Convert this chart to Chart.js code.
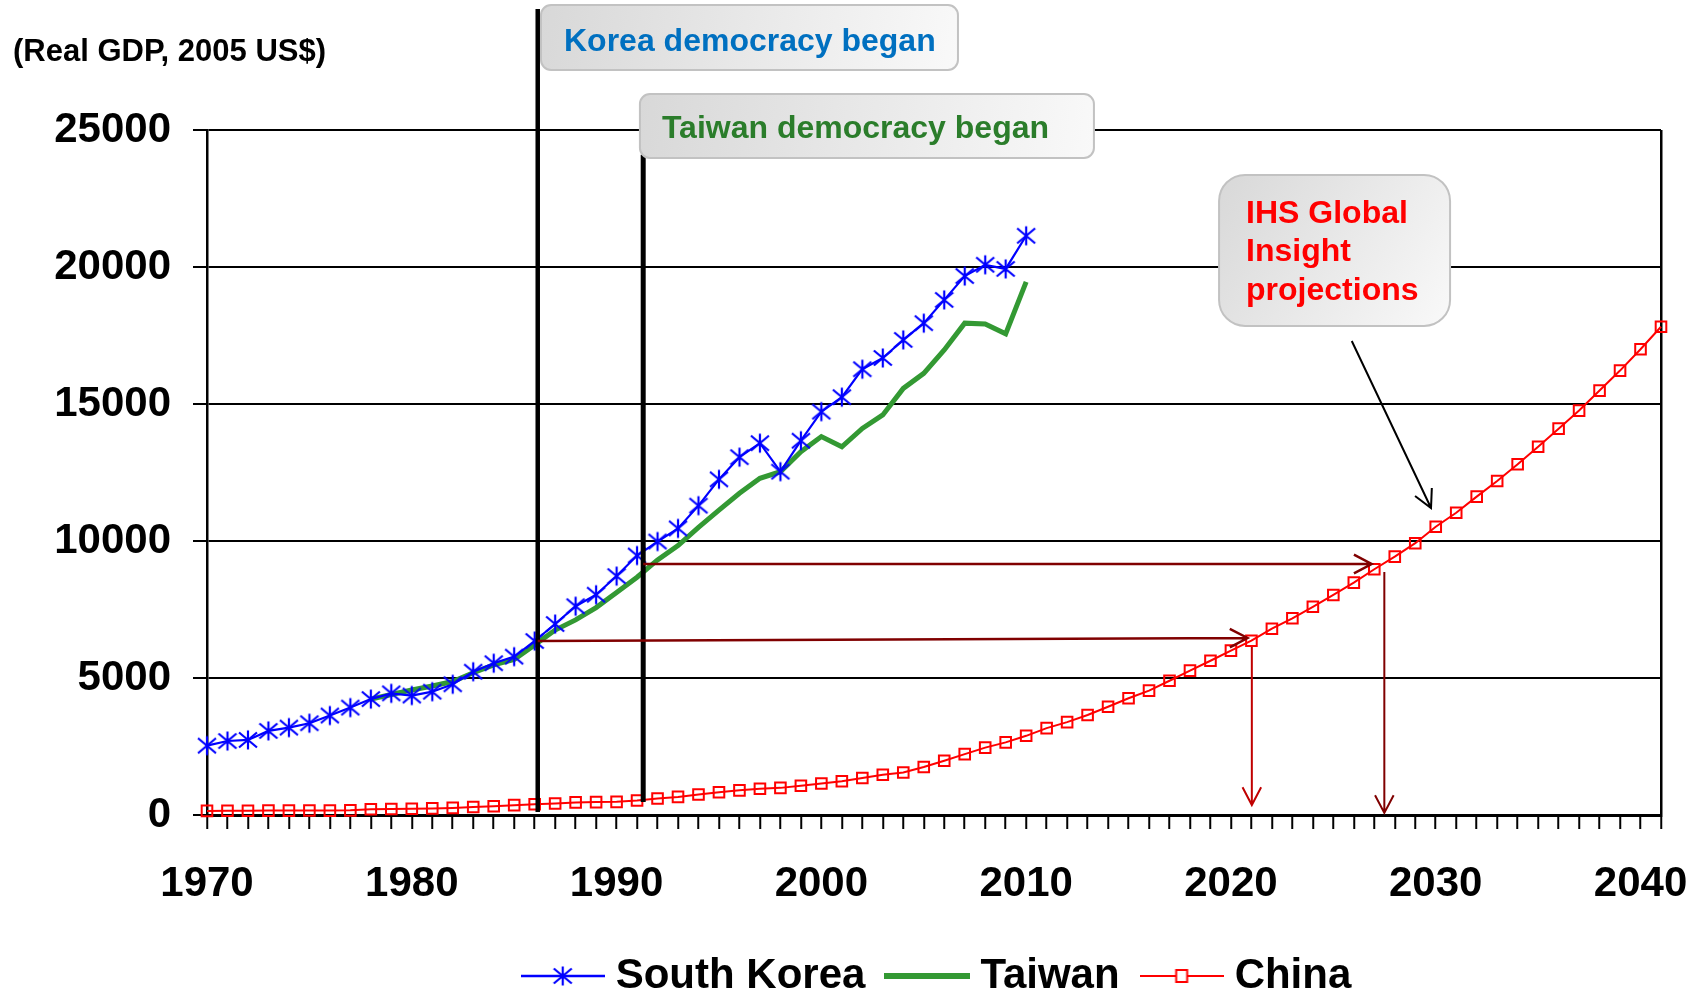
<!DOCTYPE html>
<html>
<head>
<meta charset="utf-8">
<title>Real GDP per capita</title>
<script src="https://cdn.jsdelivr.net/npm/chart.js@4.4.0/dist/chart.umd.min.js"></script>
<style>
  html, body { margin: 0; padding: 0; background: #fff; }
  #wrap { width: 1701px; height: 992px; }
</style>
</head>
<body>
<div id="wrap"><canvas id="gdpChart" width="1701" height="992"></canvas></div>
<script>
const years = [
  1970, 1971, 1972, 1973, 1974, 1975, 1976, 1977, 1978, 1979,
  1980, 1981, 1982, 1983, 1984, 1985, 1986, 1987, 1988, 1989,
  1990, 1991, 1992, 1993, 1994, 1995, 1996, 1997, 1998, 1999,
  2000, 2001, 2002, 2003, 2004, 2005, 2006, 2007, 2008, 2009,
  2010, 2011, 2012, 2013, 2014, 2015, 2016, 2017, 2018, 2019,
  2020, 2021, 2022, 2023, 2024, 2025, 2026, 2027, 2028, 2029,
  2030, 2031, 2032, 2033, 2034, 2035, 2036, 2037, 2038, 2039,
  2040, 2041,
];

// 1970 - 2010
const southKorea = [
  2530, 2700, 2740, 3070, 3190, 3350, 3630, 3920, 4230, 4440,
  4360, 4500, 4770, 5230, 5540, 5780, 6350, 6970, 7620, 8040,
  8720, 9470, 9980, 10460, 11290, 12250, 13060, 13570, 12530, 13660,
  14720, 15250, 16270, 16680, 17340, 17950, 18800, 19670, 20080, 19930,
  21140,
];

// 1970 - 2010, hidden behind Korea before 1978
const taiwan = [
  null, null, null, null, null, null, null, null, 4230, 4400,
  4560, 4710, 4870, 5190, 5480, 5680, 6210, 6750, 7120, 7570,
  8120, 8680, 9310, 9830, 10500, 11130, 11740, 12290, 12530, 13260,
  13810, 13440, 14110, 14600, 15570, 16120, 16970, 17950, 17920, 17560,
  19460,
];

// 1970 - 2041 (IHS Global Insight projections after 2010)
const china = [
  150, 155, 155, 160, 160, 165, 160, 170, 210, 220,
  230, 240, 260, 290, 320, 360, 390, 420, 460, 470,
  480, 530, 600, 660, 750, 830, 900, 960, 990, 1070,
  1150, 1230, 1350, 1470, 1550, 1750, 1980, 2220, 2460, 2650,
  2890, 3170, 3390, 3650, 3950, 4260, 4540, 4900, 5270, 5630,
  6000, 6360, 6800, 7180, 7600, 8030, 8480, 8970, 9430, 9920,
  10520, 11030, 11620, 12190, 12800, 13440, 14100, 14760, 15490, 16220,
  17000, 17820,
];

const yTicks = [0, 5000, 10000, 15000, 20000, 25000];
const xTickLabels = [1970, 1980, 1990, 2000, 2010, 2020, 2030, 2040];

const FONT = "'Liberation Sans', Arial, sans-serif";

// vertical event lines (year, value range)
const eventLines = [
  { year: 1986.15, top: 29420, bottom: 110, width: 4.5 },
  { year: 1991.3, top: 24100, bottom: 470, width: 5 },
];

// arrows in data coordinates
const arrows = [
  { x0: 1986.15, y0: 6350, x1: 2020.81, y1: 6460, color: '#800000', width: 2.5 },
  { x0: 2021.02, y0: 6130, x1: 2021.02, y1: 365, color: '#C00000', width: 2 },
  { x0: 1991.3, y0: 9160, x1: 2026.87, y1: 9160, color: '#800000', width: 2.5 },
  { x0: 2027.49, y0: 8870, x1: 2027.49, y1: 75, color: '#800000', width: 2 },
  { x0: 2025.9, y0: 17300, x1: 2029.77, y1: 11205, color: '#000000', width: 2 },
];

const callouts = [
  { lines: ['Korea democracy began'], color: '#0070C0',
    x0: 1986.31, x1: 2006.67, y0: 29560, y1: 27190, radius: 10, padX: 23, baseY: 46 },
  { lines: ['Taiwan democracy began'], color: '#2B7D2B',
    x0: 1991.14, x1: 2013.31, y0: 26310, y1: 23980, radius: 10, padX: 22, baseY: 44 },
  { lines: ['IHS Global', 'Insight', 'projections'], color: '#FF0000',
    x0: 2019.42, x1: 2030.7, y0: 23360, y1: 17850, radius: 26, padX: 27, baseY: 48 },
];

function makeIcon(w, h, draw) {
  const c = document.createElement('canvas');
  c.width = w;
  c.height = h;
  draw(c.getContext('2d'), w, h);
  return c;
}

function drawAsterisk(g, cx, cy) {
  g.save();
  g.strokeStyle = '#0000FF';
  g.lineWidth = 2.2;
  g.beginPath();
  g.moveTo(cx, cy - 9.5); g.lineTo(cx, cy + 9.5);
  g.moveTo(cx - 9, cy - 7.5); g.lineTo(cx + 9, cy + 7.5);
  g.moveTo(cx - 9, cy + 7.5); g.lineTo(cx + 9, cy - 7.5);
  g.stroke();
  g.restore();
}

const koreaPoint = makeIcon(22, 22, (g) => drawAsterisk(g, 11, 11));

const koreaLegend = makeIcon(84, 24, (g, w, h) => {
  g.strokeStyle = '#0000FF';
  g.lineWidth = 2.5;
  g.beginPath(); g.moveTo(0, h / 2); g.lineTo(w, h / 2); g.stroke();
  drawAsterisk(g, w / 2, h / 2);
});

const taiwanLegend = makeIcon(86, 24, (g, w, h) => {
  g.strokeStyle = '#339933';
  g.lineWidth = 6;
  g.beginPath(); g.moveTo(0, h / 2); g.lineTo(w, h / 2); g.stroke();
});

const chinaLegend = makeIcon(84, 24, (g, w, h) => {
  g.strokeStyle = '#FF0000';
  g.lineWidth = 2;
  g.beginPath(); g.moveTo(0, h / 2); g.lineTo(w, h / 2); g.stroke();
  g.fillStyle = '#fff';
  g.fillRect(w / 2 - 5.5, h / 2 - 6, 11, 12);
  g.strokeRect(w / 2 - 5.5, h / 2 - 6, 11, 12);
});

const legendIcons = [koreaLegend, taiwanLegend, chinaLegend];

const toPoints = (values) => values.map((v, i) => ({ x: years[i], y: v }));

function roundedRect(ctx, x, y, w, h, r) {
  ctx.beginPath();
  ctx.moveTo(x + r, y);
  ctx.lineTo(x + w - r, y);
  ctx.arcTo(x + w, y, x + w, y + r, r);
  ctx.lineTo(x + w, y + h - r);
  ctx.arcTo(x + w, y + h, x + w - r, y + h, r);
  ctx.lineTo(x + r, y + h);
  ctx.arcTo(x, y + h, x, y + h - r, r);
  ctx.lineTo(x, y + r);
  ctx.arcTo(x, y, x + r, y, r);
  ctx.closePath();
}

function drawArrow(ctx, x0, y0, x1, y1, color, width) {
  const ang = Math.atan2(y1 - y0, x1 - x0);
  const len = 20;
  const spread = Math.PI / 6.5;
  ctx.strokeStyle = color;
  ctx.lineWidth = width;
  ctx.beginPath();
  ctx.moveTo(x0, y0);
  ctx.lineTo(x1, y1);
  ctx.moveTo(x1 - len * Math.cos(ang - spread), y1 - len * Math.sin(ang - spread));
  ctx.lineTo(x1, y1);
  ctx.lineTo(x1 - len * Math.cos(ang + spread), y1 - len * Math.sin(ang + spread));
  ctx.stroke();
}

const annotationPlugin = {
  id: 'annotations',
  afterLayout(chart) {
    // legend sits a little right of the plot centre in the original
    chart.legend.left += 7;
    chart.legend.right += 7;
  },
  afterDraw(chart) {
    const { ctx } = chart;
    const px = (v) => chart.scales.x.getPixelForValue(v);
    const py = (v) => chart.scales.y.getPixelForValue(v);
    ctx.save();

    eventLines.forEach((l) => {
      ctx.strokeStyle = '#000';
      ctx.lineWidth = l.width;
      ctx.beginPath();
      ctx.moveTo(px(l.year), py(l.top));
      ctx.lineTo(px(l.year), py(l.bottom));
      ctx.stroke();
    });

    arrows.forEach((a) => drawArrow(ctx, px(a.x0), py(a.y0), px(a.x1), py(a.y1), a.color, a.width));

    callouts.forEach((c) => {
      const x0 = px(c.x0), x1 = px(c.x1), y0 = py(c.y0), y1 = py(c.y1);
      const grad = ctx.createLinearGradient(x0, y0, x1, y1);
      grad.addColorStop(0, '#d8d8d8');
      grad.addColorStop(1, '#f9f9f9');
      roundedRect(ctx, x0, y0, x1 - x0, y1 - y0, c.radius);
      ctx.fillStyle = grad;
      ctx.fill();
      ctx.strokeStyle = '#c2c2c2';
      ctx.lineWidth = 2;
      ctx.stroke();
      ctx.fillStyle = c.color;
      ctx.font = 'bold 32px ' + FONT;
      ctx.textAlign = 'left';
      ctx.textBaseline = 'alphabetic';
      c.lines.forEach((t, i) => ctx.fillText(t, x0 + c.padX, y0 + c.baseY + i * 38.5));
    });

    ctx.restore();
  },
};

Chart.defaults.font.family = FONT;
Chart.defaults.color = '#000';

new Chart(document.getElementById('gdpChart'), {
  type: 'line',
  data: {
    datasets: [
      {
        label: 'South Korea',
        data: toPoints(southKorea),
        borderColor: '#0000FF',
        borderWidth: 2.2,
        pointStyle: koreaPoint,
        pointRadius: 9,
        clip: false,
      },
      {
        label: 'Taiwan',
        data: toPoints(taiwan),
        borderColor: '#339933',
        borderWidth: 5,
        pointRadius: 0,
        clip: false,
      },
      {
        label: 'China',
        data: toPoints(china),
        borderColor: '#FF0000',
        borderWidth: 2,
        pointStyle: 'rect',
        pointRadius: 7.5,
        pointBorderWidth: 2,
        pointBorderColor: '#FF0000',
        pointBackgroundColor: 'rgba(0,0,0,0)',
        clip: false,
      },
    ],
  },
  options: {
    responsive: false,
    animation: false,
    events: [],
    devicePixelRatio: 1,
    layout: { padding: { left: 13, right: 40, top: 0, bottom: 0 } },
    scales: {
      x: {
        type: 'linear',
        min: years[0],
        max: years[years.length - 1],
        afterFit: (scale) => { scale.height = 110; },
        ticks: {
          stepSize: 1,
          autoSkip: false,
          maxRotation: 0,
          minRotation: 0,
          padding: 30,
          font: { size: 42, weight: 'bold' },
          color: '#000',
          callback: (value) => (xTickLabels.includes(value) ? String(value) : ''),
        },
        grid: {
          drawOnChartArea: true,
          color: (c) => (c.tick && c.tick.value === years[years.length - 1] ? '#000' : 'rgba(0,0,0,0)'),
          lineWidth: 2.5,
          tickColor: '#000',
          tickLength: 14,
          tickWidth: 2,
        },
        border: { color: '#000', width: 3 },
      },
      y: {
        min: yTicks[0],
        max: yTicks[yTicks.length - 1],
        afterFit: (scale) => { scale.width = 194; },
        afterBuildTicks: (scale) => { scale.ticks = yTicks.map((v) => ({ value: v })); },
        ticks: {
          padding: 22,
          font: { size: 42, weight: 'bold' },
          color: '#000',
          callback: (value) => String(value),
        },
        grid: {
          color: '#000',
          lineWidth: 2,
          tickColor: '#000',
          tickLength: 14,
          tickWidth: 2,
        },
        border: { color: '#000', width: 2.5 },
      },
    },
    plugins: {
      title: {
        display: true,
        text: '(Real GDP, 2005 US$)',
        align: 'start',
        color: '#000',
        font: { size: 31, weight: 'bold' },
        padding: { top: 34, bottom: 58.8 },
      },
      legend: {
        position: 'bottom',
        fullSize: false,
        maxHeight: 67,
        labels: {
          usePointStyle: true,
          pointStyleWidth: 64,
          padding: 30,
          color: '#000',
          font: { size: 42, weight: 'bold' },
          generateLabels: (chart) => chart.data.datasets.map((ds, i) => ({
            text: ds.label,
            pointStyle: legendIcons[i],
            datasetIndex: i,
            hidden: false,
            lineWidth: 0,
            fillStyle: 'rgba(0,0,0,0)',
            strokeStyle: 'rgba(0,0,0,0)',
            fontColor: '#000',
          })),
        },
      },
      tooltip: { enabled: false },
    },
  },
  plugins: [annotationPlugin],
});
</script>
</body>
</html>
